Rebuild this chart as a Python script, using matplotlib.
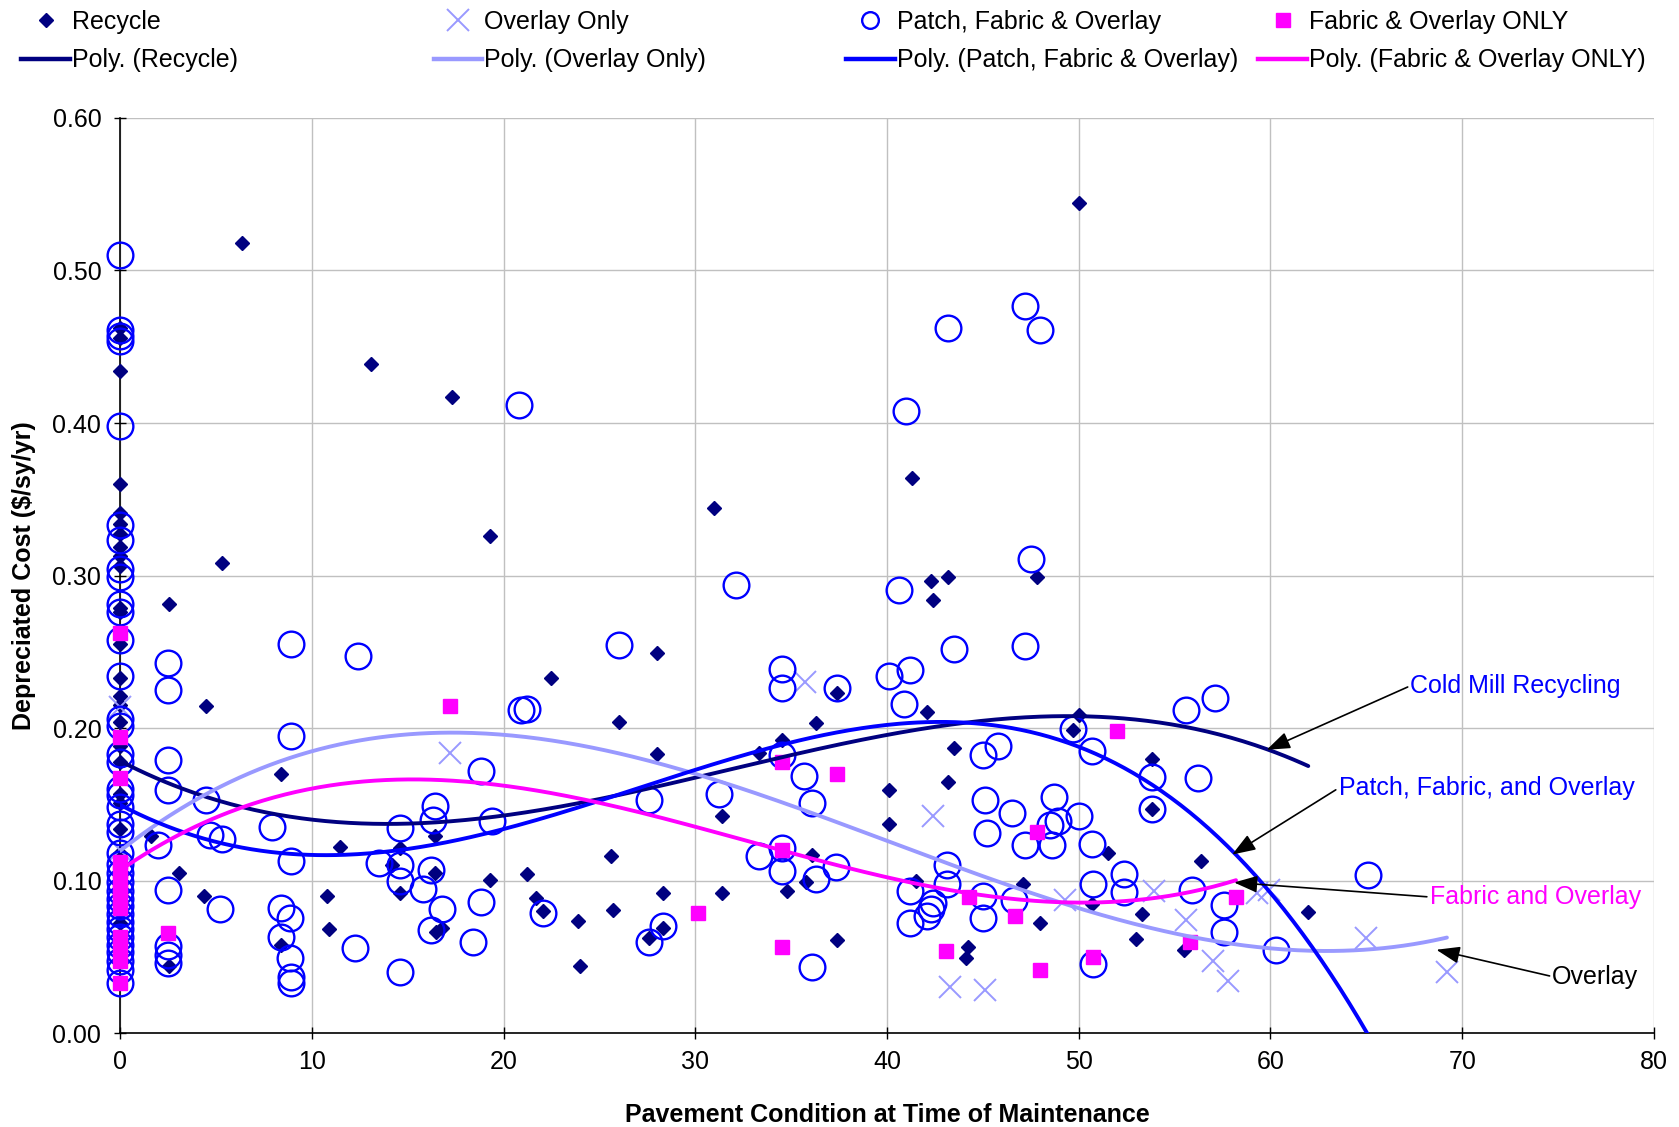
import numpy as np
import matplotlib
matplotlib.use("Agg")
import matplotlib.pyplot as plt
from matplotlib.lines import Line2D

plt.rcParams['font.family'] = ['Liberation Sans', 'DejaVu Sans']

# ---------------- data ----------------
recycle_x = [0]*27 + [
    1.6, 2.55, 3.1, 2.55, 4.5, 4.4, 5.3, 6.35, 8.4, 8.4, 10.8, 10.9, 11.45, 13.1,
    14.2, 14.6, 14.6, 16.4, 16.4, 16.5, 16.8, 17.3, 19.3, 19.3, 21.2, 21.7, 22.05,
    22.5, 23.9, 24.0, 25.6, 25.7, 26.0, 27.6, 28.0, 28.0, 28.3, 28.3, 31.0, 31.4,
    31.4, 33.3, 34.5, 34.8, 35.75, 36.1, 36.3, 37.4, 37.4, 40.1, 40.1, 41.3, 41.5,
    42.1, 42.3, 42.4, 43.2, 43.2, 43.5, 44.1, 44.2, 47.1, 47.8, 48.0, 49.7, 50.0,
    50.0, 50.7, 51.5, 53.0, 53.3, 53.8, 53.8, 55.5, 56.4, 61.97]
recycle_y = [
    0.462, 0.456, 0.434, 0.360, 0.341, 0.334, 0.327, 0.319, 0.313, 0.306, 0.279,
    0.276, 0.255, 0.233, 0.221, 0.215, 0.204, 0.188, 0.178, 0.157, 0.151, 0.134,
    0.118, 0.100, 0.087, 0.072, 0.058] + [
    0.129, 0.281, 0.105, 0.044, 0.2145, 0.090, 0.308, 0.518, 0.170, 0.058, 0.090,
    0.068, 0.122, 0.439, 0.110, 0.121, 0.092, 0.129, 0.105, 0.066, 0.069, 0.417,
    0.326, 0.1005, 0.104, 0.0886, 0.080, 0.2326, 0.0735, 0.0437, 0.1162, 0.0807,
    0.204, 0.0626, 0.2495, 0.183, 0.092, 0.069, 0.344, 0.142, 0.092, 0.1836, 0.192,
    0.093, 0.099, 0.1168, 0.2035, 0.2227, 0.061, 0.1595, 0.137, 0.364, 0.0994,
    0.2108, 0.2967, 0.284, 0.2988, 0.1643, 0.1872, 0.049, 0.0563, 0.098, 0.299,
    0.0723, 0.1988, 0.2086, 0.544, 0.0846, 0.118, 0.0614, 0.078, 0.180, 0.1466,
    0.0544, 0.113, 0.0796]

overlay_x = [0, 0, 17.2, 35.7, 42.4, 43.3, 45.1, 49.3, 53.9, 55.6, 57.0, 57.8,
             59.3, 59.9, 65.0, 69.2]
overlay_y = [0.214, 0.120, 0.1835, 0.230, 0.142, 0.030, 0.028, 0.0874, 0.0928,
             0.0744, 0.047, 0.034, 0.0917, 0.094, 0.062, 0.040]

patch_x = [0]*38 + [
    2.0, 2.52, 2.52, 2.52, 2.52, 2.5, 2.5, 2.5, 2.5, 4.5, 4.7, 5.3, 5.2, 7.9, 8.4,
    8.4, 8.9, 8.9, 8.9, 8.87, 8.87, 8.9, 8.9, 12.25, 12.4, 13.5, 14.6, 14.6, 14.6,
    14.6, 15.8, 16.2, 16.2, 16.3, 16.4, 16.8, 18.4, 18.8, 18.8, 19.4, 20.8, 20.9,
    21.2, 22.05, 26.0, 27.6, 28.3, 27.6, 31.25, 32.15, 33.3, 34.5, 34.5, 34.5,
    34.5, 34.5, 35.66, 36.1, 36.1, 36.3, 37.35, 37.4, 40.1, 40.6, 40.9, 41.0, 41.2,
    41.2, 41.2, 42.1, 42.3, 42.4, 43.15, 43.15, 43.2, 43.5, 45.0, 45.0, 45.0, 45.1,
    45.2, 45.8, 46.5, 46.6, 47.2, 47.2, 47.2, 47.5, 47.96, 48.5, 48.6, 48.7, 48.9,
    50.0, 49.7, 50.7, 50.7, 50.75, 50.75, 52.35, 52.35, 53.8, 53.8, 55.6, 55.9,
    56.2, 57.1, 57.6, 57.6, 60.3, 65.1]
patch_y = [
    0.510, 0.461, 0.457, 0.454, 0.398, 0.333, 0.323, 0.304, 0.299, 0.281, 0.276,
    0.258, 0.234, 0.206, 0.201, 0.183, 0.178, 0.160, 0.156, 0.148, 0.137, 0.132,
    0.118, 0.111, 0.105, 0.099, 0.093, 0.088, 0.083, 0.078, 0.073, 0.068, 0.063,
    0.058, 0.053, 0.047, 0.041, 0.033] + [
    0.1235, 0.2425, 0.2246, 0.179, 0.1595, 0.0938, 0.057, 0.051, 0.046, 0.153,
    0.130, 0.127, 0.0815, 0.135, 0.082, 0.063, 0.255, 0.195, 0.1126, 0.0754, 0.049,
    0.037, 0.033, 0.0556, 0.247, 0.1116, 0.1342, 0.110, 0.0995, 0.040, 0.0945,
    0.1067, 0.0675, 0.140, 0.1488, 0.0816, 0.0598, 0.172, 0.086, 0.139, 0.412,
    0.2115, 0.2126, 0.0786, 0.2545, 0.0594, 0.070, 0.153, 0.157, 0.294, 0.116,
    0.2386, 0.226, 0.182, 0.121, 0.106, 0.1686, 0.151, 0.0435, 0.101, 0.109, 0.226,
    0.234, 0.2905, 0.216, 0.408, 0.238, 0.0928, 0.072, 0.0765, 0.081, 0.085, 0.110,
    0.098, 0.462, 0.2516, 0.182, 0.090, 0.0754, 0.153, 0.131, 0.188, 0.144, 0.087,
    0.477, 0.2538, 0.123, 0.3107, 0.461, 0.1365, 0.123, 0.155, 0.139, 0.142,
    0.1993, 0.1846, 0.124, 0.0975, 0.045, 0.104, 0.0926, 0.168, 0.1466, 0.212,
    0.0937, 0.167, 0.2197, 0.0842, 0.0665, 0.0544, 0.1036]

fabric_x = [0]*13 + [2.52, 17.2, 30.15, 34.5, 34.5, 34.5, 37.4, 43.07, 44.3,
                     46.7, 47.8, 48.0, 50.75, 52.0, 55.8, 58.2]
fabric_y = [0.262, 0.194, 0.167, 0.112, 0.106, 0.100, 0.094, 0.088, 0.082, 0.063,
            0.056, 0.047, 0.033] + [
    0.0653, 0.2145, 0.0787, 0.178, 0.120, 0.0563, 0.170, 0.0535, 0.0895, 0.0765,
    0.132, 0.0415, 0.050, 0.198, 0.0595, 0.0895]

# points read along the polynomial trendlines
trend_recycle_x = [0, 4.2, 13.9, 22.4, 30.15, 40.1, 45.9, 50.0, 60.1, 62.0]
trend_recycle_y = [0.179, 0.155, 0.137, 0.1485, 0.169, 0.191, 0.2075, 0.209, 0.187, 0.1726]
trend_overlay_x = [0, 4.17, 7.3, 17.6, 22.4, 30.15, 40.1, 45.9, 50.05, 55.4, 62.4, 66.8, 69.3]
trend_overlay_y = [0.118, 0.155, 0.175, 0.1966, 0.192, 0.169, 0.124, 0.0977, 0.0852, 0.0634, 0.054, 0.0573, 0.0623]
trend_patch_x = [0, 4.17, 7.3, 9.9, 19.45, 25.0, 30.15, 40.1, 42.5, 45.9, 50.0, 53.7, 58.0, 60.6, 63.0, 65.0]
trend_patch_y = [0.1495, 0.131, 0.1166, 0.1156, 0.133, 0.155, 0.172, 0.1999, 0.2043, 0.201, 0.188, 0.165, 0.119, 0.083, 0.0417, 0.0]
trend_fabric_x = [0, 4.17, 7.3, 15.7, 22.4, 25.0, 30.15, 34.5, 40.1, 45.9, 50.05, 53.6, 58.2]
trend_fabric_y = [0.107, 0.1358, 0.152, 0.1663, 0.1595, 0.152, 0.131, 0.120, 0.1015, 0.0895, 0.0863, 0.0884, 0.0994]

x_ticks = [0, 10, 20, 30, 40, 50, 60, 70, 80]
y_ticks = [0.00, 0.10, 0.20, 0.30, 0.40, 0.50, 0.60]

NAVY = '#000080'
LIGHT = '#9999FF'
BLUE = '#0000FF'
MAGENTA = '#FF00FF'

fig = plt.figure(figsize=(16.79, 11.27), dpi=100)
ax = fig.add_axes([0.0715, 0.0834, 0.9136, 0.8119])

ax.plot(recycle_x, recycle_y, ls='none', marker='D', ms=7.2, color=NAVY,
        mec=NAVY, clip_on=False, zorder=3)
ax.plot(overlay_x, overlay_y, ls='none', marker='x', ms=16, mew=1.4, color=LIGHT,
        clip_on=False, zorder=3)
ax.plot(patch_x, patch_y, ls='none', marker='o', ms=18.5, mew=1.7, mfc='none',
        mec=BLUE, clip_on=False, zorder=4)
ax.plot(fabric_x, fabric_y, ls='none', marker='s', ms=10.5, color=MAGENTA,
        mec=MAGENTA, clip_on=False, zorder=5)


def trend(xs, ys, deg, x_data):
    c = np.polyfit(xs, ys, deg)
    xx = np.linspace(min(x_data), max(x_data), 400)
    return xx, np.polyval(c, xx)

for (tx, ty, deg, xd, col) in [
        (trend_recycle_x, trend_recycle_y, 3, recycle_x, NAVY),
        (trend_overlay_x, trend_overlay_y, 3, overlay_x, LIGHT),
        (trend_patch_x, trend_patch_y, 4, patch_x, BLUE),
        (trend_fabric_x, trend_fabric_y, 3, fabric_x, MAGENTA)]:
    xx, yy = trend(tx, ty, deg, xd)
    ax.plot(xx, yy, color=col, lw=2.8, zorder=6, solid_capstyle='round')

ax.set_xlim(0, 80)
ax.set_ylim(0, 0.6)
ax.set_xticks(x_ticks)
ax.set_yticks(y_ticks)
ax.set_yticklabels([f'{v:.2f}' for v in y_ticks])
ax.grid(True, color='#C0C0C0', lw=1.0)
ax.set_axisbelow(True)
for s in ['top', 'right']:
    ax.spines[s].set_visible(False)
for s in ['left', 'bottom']:
    ax.spines[s].set_color('black')
    ax.spines[s].set_linewidth(1.2)
    ax.spines[s].set_zorder(2.5)
ax.tick_params(axis='both', direction='inout', length=9, width=1.0,
               labelsize=18, colors='black')
ax.tick_params(axis='y', pad=9)
ax.tick_params(axis='x', pad=8)

ax.set_xlabel('Pavement Condition at Time of Maintenance', fontsize=18,
              fontweight='bold')
ax.set_ylabel('Depreciated Cost ($/sy/yr)', fontsize=18, fontweight='bold')
ax.xaxis.set_label_coords(0.5, -0.0895)
ax.xaxis.label.set_va('center')
ax.yaxis.set_label_coords(-0.0628, 0.5)
ax.yaxis.label.set_va('center')

# annotations
arrow = dict(arrowstyle='-|>,head_length=0.55,head_width=0.2', color='black',
             lw=1.2, mutation_scale=26, relpos=(0, 0.5), shrinkA=0, shrinkB=0)
notes = [
    ('Cold Mill Recycling', (59.8, 0.1857), (67.3, 0.2277), BLUE),
    ('Patch, Fabric, and Overlay', (58.0, 0.117), (63.55, 0.1606), BLUE),
    ('Fabric and Overlay', (58.1, 0.0987), (68.3, 0.0892), MAGENTA),
    ('Overlay', (68.65, 0.0546), (74.7, 0.037), 'black'),
]
for txt, head, tail, col in notes:
    ax.annotate(txt, xy=head, xytext=tail, textcoords='data', fontsize=18,
                color=col, ha='left', va='center', arrowprops=arrow, zorder=7)

# legend (four columns of two rows)
cols = [
    (Line2D([], [], ls='none', marker='D', ms=7.2, color=NAVY), 'Recycle',
     Line2D([], [], color=NAVY, lw=3.2), 'Poly. (Recycle)', 0.0128),
    (Line2D([], [], ls='none', marker='x', ms=16, mew=1.4, color=LIGHT), 'Overlay Only',
     Line2D([], [], color=LIGHT, lw=3.2), 'Poly. (Overlay Only)', 0.2583),
    (Line2D([], [], ls='none', marker='o', ms=12, mew=1.7, mfc='none', mec=BLUE),
     'Patch, Fabric & Overlay',
     Line2D([], [], color=BLUE, lw=3.2), 'Poly. (Patch, Fabric & Overlay)', 0.5039),
    (Line2D([], [], ls='none', marker='s', ms=10.5, color=MAGENTA), 'Fabric & Overlay ONLY',
     Line2D([], [], color=MAGENTA, lw=3.2), 'Poly. (Fabric & Overlay ONLY)', 0.7494),
]
for h1, l1, h2, l2, xf in cols:
    fig.legend([h1, h2], [l1, l2], loc='upper left', bbox_to_anchor=(xf, 0.991),
               frameon=False, fontsize=18, borderpad=0, borderaxespad=0,
               handlelength=1.95, handletextpad=0.08, labelspacing=0.57)

fig.savefig('out.png', dpi=100)
